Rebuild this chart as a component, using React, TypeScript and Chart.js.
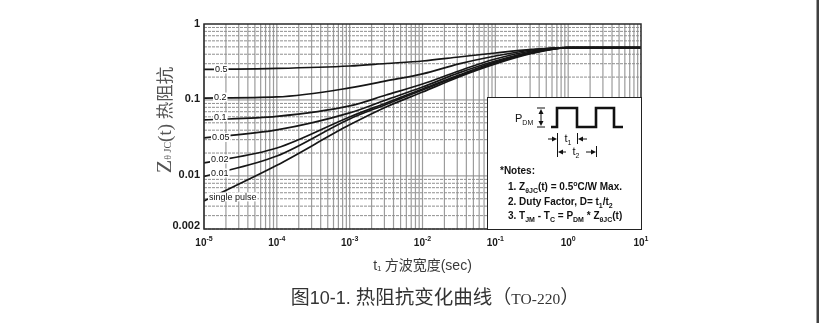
import React, { useEffect, useRef } from 'react';
import { Chart, registerables } from 'chart.js';
Chart.register(...registerables);

// ---- data ----
const pulseWidthSec = [1e-5, 1e-4, 1e-3, 3.16e-3, 1e-2, 3.16e-2, 1e-1, 3.16e-1, 1, 10];
const dutyLabels = ['0.5', '0.2', '0.1', '0.05', '0.02', '0.01', 'single pulse'];
const zD050 = [0.252, 0.26, 0.28, 0.302, 0.326, 0.368, 0.415, 0.462, 0.49, 0.49];
const zD020 = [0.106, 0.1095, 0.144, 0.178, 0.22, 0.298, 0.379, 0.455, 0.49, 0.49];
const zD010 = [0.0546, 0.0607, 0.0834, 0.116, 0.162, 0.241, 0.346, 0.441, 0.49, 0.49];
const zD005 = [0.0316, 0.0403, 0.0675, 0.1, 0.148, 0.227, 0.326, 0.428, 0.49, 0.49];
const zD002 = [0.0148, 0.0233, 0.0598, 0.0913, 0.1396, 0.213, 0.316, 0.422, 0.49, 0.49];
const zD001 = [0.00985, 0.0183, 0.0562, 0.0873, 0.1355, 0.207, 0.307, 0.415, 0.49, 0.49];
const zSingle = [0.00469, 0.0138, 0.047, 0.0809, 0.127, 0.201, 0.298, 0.409, 0.49, 0.49];
const seriesList = [zD050, zD020, zD010, zD005, zD002, zD001, zSingle];

const yTickValues = [1, 0.1, 0.01, 0.002];
const yTickLabels = ['1', '0.1', '0.01', '0.002'];
const xTickExponents = [-5, -4, -3, -2, -1, 0, 1];

const SANS = '"Liberation Sans", Arial, sans-serif';
const SERIF = '"Liberation Serif", "Times New Roman", serif';
const CJK = '"Noto Sans CJK SC", sans-serif';

type Seg = { t: string; font: string; dy?: number };

function richWidth(ctx: CanvasRenderingContext2D, segs: Seg[]) {
  let w = 0;
  for (const s of segs) {
    ctx.font = s.font;
    w += ctx.measureText(s.t).width;
  }
  return w;
}

function drawRich(ctx: CanvasRenderingContext2D, segs: Seg[], x: number, y: number, align: 'left' | 'center' | 'right') {
  const total = richWidth(ctx, segs);
  let cx = align === 'left' ? x : align === 'center' ? x - total / 2 : x - total;
  ctx.textAlign = 'left';
  ctx.textBaseline = 'alphabetic';
  for (const s of segs) {
    ctx.font = s.font;
    ctx.fillText(s.t, cx, y + (s.dy || 0));
    cx += ctx.measureText(s.t).width;
  }
}

function arrowHead(ctx: CanvasRenderingContext2D, x: number, y: number, dir: number) {
  ctx.beginPath();
  ctx.moveTo(x, y);
  ctx.lineTo(x - dir * 5, y - 2.5);
  ctx.lineTo(x - dir * 5, y + 2.5);
  ctx.closePath();
  ctx.fill();
}

const decorPlugin = {
  id: 'decor',
  beforeDraw(chart: any) {
    const ctx = chart.ctx as CanvasRenderingContext2D;
    ctx.save();
    ctx.fillStyle = '#ffffff';
    ctx.fillRect(0, 0, chart.width, chart.height);
    ctx.restore();
  },
  beforeDatasetsDraw(chart: any) {
    const ctx = chart.ctx as CanvasRenderingContext2D;
    const ca = chart.chartArea;
    const xs = chart.scales.x;
    const ys = chart.scales.y;
    ctx.save();
    // vertical grid
    ctx.strokeStyle = '#9c9c9c';
    ctx.lineWidth = 1.2;
    for (let e = -5; e <= 0; e++) {
      for (let m = 1; m <= 9; m++) {
        const v = m * Math.pow(10, e);
        const px = xs.getPixelForValue(v);
        ctx.beginPath();
        ctx.moveTo(px, ca.top);
        ctx.lineTo(px, ca.bottom);
        ctx.stroke();
      }
    }
    // horizontal grid
    for (let e = -3; e <= -1; e++) {
      for (let m = 1; m <= 9; m++) {
        const v = m * Math.pow(10, e);
        if (v < 0.002 - 1e-9) continue;
        const py = ys.getPixelForValue(v);
        ctx.beginPath();
        if (m === 1) {
          ctx.setLineDash([]);
          ctx.strokeStyle = '#8a8a8a';
          ctx.lineWidth = 1;
        } else {
          ctx.setLineDash([3, 1]);
          ctx.strokeStyle = '#8f8f8f';
          ctx.lineWidth = 1;
        }
        ctx.moveTo(ca.left, py);
        ctx.lineTo(ca.right, py);
        ctx.stroke();
      }
    }
    ctx.restore();
  },
  afterDatasetsDraw(chart: any) {
    const ctx = chart.ctx as CanvasRenderingContext2D;
    const ca = chart.chartArea;
    const xs = chart.scales.x;
    const ys = chart.scales.y;
    ctx.save();

    // plot border
    ctx.strokeStyle = '#2a2a2a';
    ctx.lineWidth = 1.5;
    ctx.strokeRect(ca.left, ca.top, ca.right - ca.left, ca.bottom - ca.top);

    // curve labels
    const labelDx = [11, 10, 10, 8, 7, 7, 5];
    const labelDy = [-0.5, -1, -3, -0.5, -4, -3.5, -4];
    ctx.font = '9px ' + SANS;
    ctx.textBaseline = 'middle';
    ctx.textAlign = 'left';
    dutyLabels.forEach((lab, i) => {
      const x0 = ca.left + labelDx[i];
      const y0 = ys.getPixelForValue(seriesList[i][0]) + labelDy[i];
      const w = ctx.measureText(lab).width;
      ctx.fillStyle = '#ffffff';
      ctx.fillRect(x0 - 1, y0 - 4.5, w + 2, 9);
      ctx.fillStyle = '#111111';
      ctx.fillText(lab, x0, y0 + 0.5);
    });

    // notes box
    const bx = ca.right - 154;
    const by = ca.top + 73;
    ctx.fillStyle = '#ffffff';
    ctx.fillRect(bx, by, ca.right - bx, ca.bottom - by);
    ctx.strokeStyle = '#222222';
    ctx.lineWidth = 1;
    ctx.strokeRect(bx + 0.5, by + 0.5, ca.right - bx, ca.bottom - by);

    ctx.fillStyle = '#111111';
    ctx.strokeStyle = '#111111';
    const B = 'bold 10px ' + SANS;
    const Bs = 'bold 7px ' + SANS;
    const N = '11px ' + SANS;
    const Ns = '7px ' + SANS;
    drawRich(ctx, [{ t: 'P', font: N }, { t: 'DM', font: Ns, dy: 3 }], bx + 28, by + 25, 'left');
    const ax = bx + 54;
    ctx.lineWidth = 1;
    ctx.beginPath();
    ctx.moveTo(ax - 4, by + 11); ctx.lineTo(ax + 4, by + 11);
    ctx.moveTo(ax - 4, by + 30); ctx.lineTo(ax + 4, by + 30);
    ctx.moveTo(ax, by + 14); ctx.lineTo(ax, by + 27);
    ctx.stroke();
    ctx.beginPath();
    ctx.moveTo(ax, by + 12); ctx.lineTo(ax - 2.5, by + 17); ctx.lineTo(ax + 2.5, by + 17); ctx.closePath(); ctx.fill();
    ctx.beginPath();
    ctx.moveTo(ax, by + 29); ctx.lineTo(ax - 2.5, by + 24); ctx.lineTo(ax + 2.5, by + 24); ctx.closePath(); ctx.fill();
    ctx.lineWidth = 2.6;
    ctx.lineJoin = 'miter';
    ctx.beginPath();
    ctx.moveTo(bx + 64, by + 30);
    ctx.lineTo(bx + 70, by + 30);
    ctx.lineTo(bx + 70, by + 11);
    ctx.lineTo(bx + 90, by + 11);
    ctx.lineTo(bx + 90, by + 30);
    ctx.lineTo(bx + 109, by + 30);
    ctx.lineTo(bx + 109, by + 11);
    ctx.lineTo(bx + 127, by + 11);
    ctx.lineTo(bx + 127, by + 30);
    ctx.lineTo(bx + 136, by + 30);
    ctx.stroke();
    ctx.lineWidth = 1;
    ctx.beginPath();
    ctx.moveTo(bx + 70.5, by + 36); ctx.lineTo(bx + 70.5, by + 60);
    ctx.moveTo(bx + 90.5, by + 36); ctx.lineTo(bx + 90.5, by + 47);
    ctx.moveTo(bx + 109.5, by + 49); ctx.lineTo(bx + 109.5, by + 60);
    ctx.moveTo(bx + 61, by + 42); ctx.lineTo(bx + 68, by + 42);
    ctx.moveTo(bx + 100, by + 42); ctx.lineTo(bx + 93, by + 42);
    ctx.moveTo(bx + 79, by + 55); ctx.lineTo(bx + 73, by + 55);
    ctx.moveTo(bx + 99, by + 55); ctx.lineTo(bx + 107, by + 55);
    ctx.stroke();
    arrowHead(ctx, bx + 70, by + 42, 1);
    arrowHead(ctx, bx + 91, by + 42, -1);
    arrowHead(ctx, bx + 71, by + 55, -1);
    arrowHead(ctx, bx + 109, by + 55, 1);
    drawRich(ctx, [{ t: 't', font: N }, { t: '1', font: Ns, dy: 3 }], bx + 81, by + 45, 'center');
    drawRich(ctx, [{ t: 't', font: N }, { t: '2', font: Ns, dy: 3 }], bx + 89, by + 58, 'center');
    drawRich(ctx, [{ t: '*Notes:', font: B }], bx + 13, by + 77, 'left');
    drawRich(ctx, [
      { t: '1. Z', font: B }, { t: 'θJC', font: Bs, dy: 2.5 }, { t: '(t) = 0.5', font: B },
      { t: 'o', font: Bs, dy: -4.5 }, { t: 'C/W Max.', font: B },
    ], bx + 21, by + 93, 'left');
    drawRich(ctx, [
      { t: '2. Duty Factor, D= t', font: B }, { t: '1', font: Bs, dy: 2.5 }, { t: '/t', font: B }, { t: '2', font: Bs, dy: 2.5 },
    ], bx + 21, by + 108, 'left');
    drawRich(ctx, [
      { t: '3. T', font: B }, { t: 'JM', font: Bs, dy: 2.5 }, { t: ' - T', font: B }, { t: 'C', font: Bs, dy: 2.5 },
      { t: ' = P', font: B }, { t: 'DM', font: Bs, dy: 2.5 }, { t: ' * Z', font: B }, { t: 'θJC', font: Bs, dy: 2.5 },
      { t: '(t)', font: B },
    ], bx + 21, by + 122, 'left');

    // y tick labels
    ctx.fillStyle = '#1a1a1a';
    ctx.font = 'bold 11px ' + SANS;
    ctx.textAlign = 'right';
    ctx.textBaseline = 'middle';
    yTickValues.forEach((v, i) => {
      let py = ys.getPixelForValue(v);
      if (i === yTickValues.length - 1) py -= 3;
      else py -= 0.5;
      ctx.fillText(yTickLabels[i], ca.left - 4, py);
    });
    // x tick labels
    xTickExponents.forEach((e) => {
      const px = xs.getPixelForValue(Math.pow(10, e));
      drawRich(ctx, [
        { t: '10', font: 'bold 10px ' + SANS },
        { t: String(e), font: 'bold 7px ' + SANS, dy: -4.5 },
      ], px, ca.bottom + 16.5, 'center');
    });

    // x title
    ctx.fillStyle = '#3a3a3a';
    drawRich(ctx, [
      { t: 't', font: '14px ' + SANS }, { t: '1', font: '8px ' + SANS, dy: 1 },
      { t: ' 方波宽度', font: '14px ' + CJK }, { t: '(sec)', font: '14px ' + SANS },
    ], (ca.left + ca.right) / 2, ca.bottom + 41, 'center');

    // y title (rotated)
    ctx.save();
    ctx.translate(ca.left - 40, 120);
    ctx.rotate(-Math.PI / 2);
    ctx.fillStyle = '#555555';
    drawRich(ctx, [
      { t: 'Z', font: '22px ' + SERIF }, { t: 'θ JC', font: '10px ' + SERIF, dy: 0 },
      { t: '(t) ', font: '19px ' + SERIF }, { t: '热阻抗', font: '17.5px ' + CJK },
    ], 0, 6.5, 'center');
    ctx.restore();

    // caption
    ctx.fillStyle = '#333333';
    drawRich(ctx, [
      { t: '图', font: '19px ' + CJK }, { t: '10-1. ', font: '18px ' + SANS },
      { t: '热阻抗变化曲线', font: '19.5px ' + CJK }, { t: '（', font: '19px ' + CJK },
      { t: 'TO-220', font: '15.5px ' + SERIF }, { t: '）', font: '19px ' + CJK },
    ], 435, 304, 'center');

    // right edge rule
    ctx.fillStyle = '#404040';
    ctx.fillRect(816.5, 0, 2.5, chart.height);

    ctx.restore();
  },
};

export default function App() {
  const ref = useRef<HTMLCanvasElement | null>(null);
  useEffect(() => {
    if (!ref.current) return;
    const datasets = seriesList.map((s, i) => ({
      label: dutyLabels[i],
      data: pulseWidthSec.map((t, j) => ({ x: t, y: s[j] })),
      borderColor: '#161616',
      borderWidth: 1.7,
      pointRadius: 0,
      fill: false,
      cubicInterpolationMode: 'monotone' as const,
    }));
    const chart = new Chart(ref.current, {
      type: 'line',
      data: { datasets },
      options: {
        animation: false,
        responsive: false,
        maintainAspectRatio: false,
        devicePixelRatio: 1,
        layout: { padding: { left: 204, right: 180, top: 24, bottom: 94 } },
        plugins: { legend: { display: false }, tooltip: { enabled: false } },
        scales: {
          x: { type: 'logarithmic', min: 1e-5, max: 10, display: false },
          y: { type: 'logarithmic', min: 0.002, max: 1, display: false },
        },
      },
      plugins: [decorPlugin],
    });
    return () => chart.destroy();
  }, []);
  return (
    <div style={{ position: 'absolute', left: 0, top: 0, width: 821, height: 323 }}>
      <canvas ref={ref} width={821} height={323} style={{ display: 'block', width: 821, height: 323 }} />
    </div>
  );
}
